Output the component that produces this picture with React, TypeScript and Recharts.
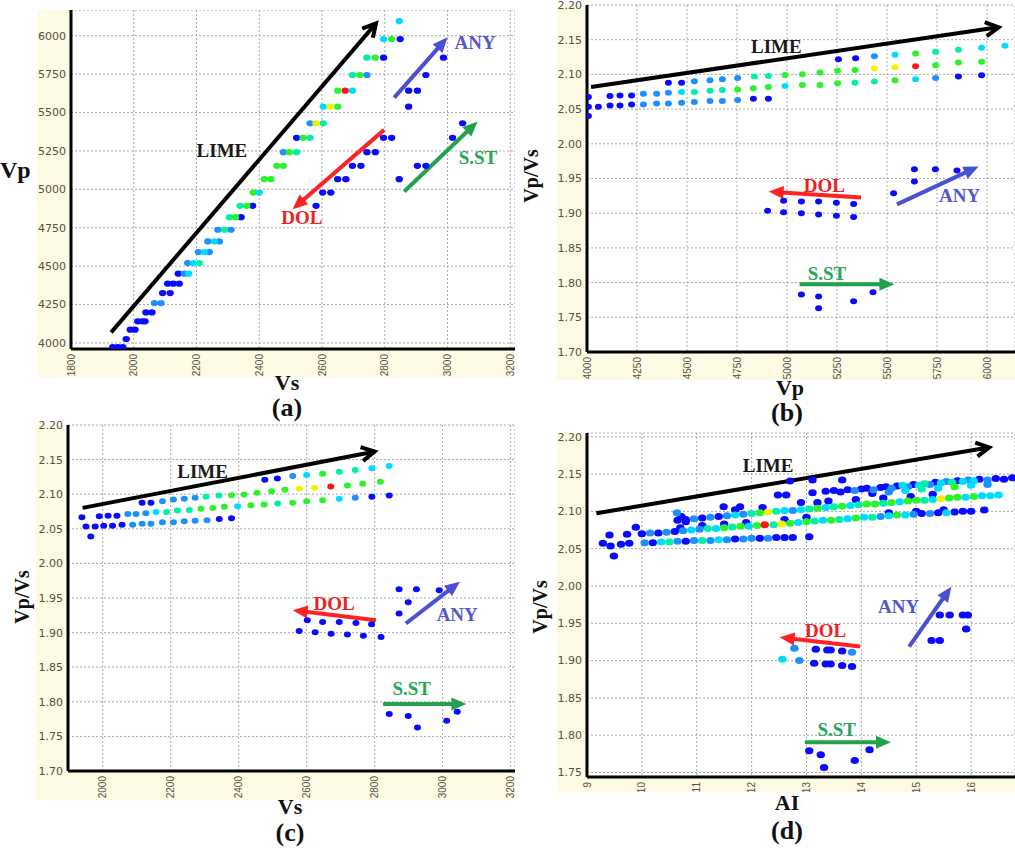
import React from "react";
import {
  ScatterChart,
  Scatter,
  XAxis,
  YAxis,
  CartesianGrid,
  ReferenceLine,
  ReferenceDot,
} from "recharts";

// density classes 0..6 mapped onto a jet-like ramp
const JET = ["#0a0aff", "#1e8fff", "#00dcff", "#00f0a8", "#2cf22c", "#f2f200", "#ff1414"];
const CREAM = "#fdfbe3";
const TICK = "#565048";
const SERIF = '"Liberation Serif", "Times New Roman", serif';
const ARROW_COLOR: Record<string, string> = { LIME: "#000000", DOL: "#ff2222", ANY: "#4b50d2", "S.ST": "#22a24c" };
const TEXT_COLOR: Record<string, string> = { LIME: "#1a1a1a", DOL: "#ee2020", ANY: "#5656cc", "S.ST": "#26a65a" };

// ---------- (a) Vs vs Vp ----------
const aXTicks = [1800, 2000, 2200, 2400, 2600, 2800, 3000, 3200];
const aYTicks = [4000, 4250, 4500, 4750, 5000, 5250, 5500, 5750, 6000];
const aLime = [
  [1933, 3974, 0], [1949, 3974, 0], [1965, 3974, 0],
  [1976, 4026, 0],
  [1989, 4087, 0], [2004, 4087, 0],
  [2013, 4141, 0], [2027, 4141, 0], [2036, 4141, 0],
  [2039, 4199, 0], [2058, 4199, 0],
  [2066, 4260, 1], [2087, 4260, 1],
  [2092, 4325, 0], [2116, 4325, 0],
  [2108, 4386, 0], [2126, 4386, 0], [2145, 4386, 0],
  [2142, 4451, 0], [2161, 4451, 1], [2175, 4451, 2],
  [2172, 4520, 1], [2191, 4520, 2], [2209, 4520, 3],
  [2206, 4592, 1], [2225, 4592, 2], [2241, 4592, 1],
  [2236, 4661, 1], [2257, 4661, 2], [2273, 4661, 1],
  [2268, 4737, 1], [2289, 4737, 3], [2310, 4737, 1],
  [2305, 4819, 3], [2324, 4819, 4], [2342, 4819, 0],
  [2339, 4893, 3], [2360, 4893, 4], [2379, 4893, 0],
  [2381, 4979, 4], [2400, 4979, 2],
  [2416, 5066, 4], [2437, 5066, 4],
  [2456, 5153, 4], [2477, 5153, 4],
  [2477, 5242, 1], [2496, 5242, 4], [2519, 5242, 3],
  [2519, 5335, 0], [2540, 5335, 4], [2562, 5335, 3],
  [2562, 5430, 1], [2581, 5430, 5], [2604, 5430, 3],
  [2604, 5538, 2], [2626, 5538, 5], [2650, 5538, 4],
  [2650, 5642, 4], [2674, 5642, 6], [2697, 5642, 2],
  [2697, 5744, 3], [2721, 5744, 4], [2743, 5744, 1],
  [2743, 5857, 3], [2770, 5857, 4], [2796, 5857, 0],
  [2796, 5978, 2], [2822, 5978, 4], [2849, 5978, 0],
  [2846, 6095, 2],
];
const aDol = [
  [2581, 4893], [2602, 4979], [2628, 4979], [2650, 5066], [2676, 5066], [2697, 5153],
  [2724, 5153], [2743, 5242], [2770, 5242], [2796, 5335], [2822, 5335],
];
const aAny = [[2876, 5538], [2876, 5642], [2904, 5642], [2931, 5744], [2987, 5857]];
const aSst = [[2846, 5066], [2904, 5153], [2931, 5153], [3016, 5335], [3048, 5430]];
const aArrows = [
  ["LIME", 1928, 4069, 2772, 6080],
  ["DOL", 2798, 5387, 2506, 4871],
  ["ANY", 2830, 5597, 3000, 5989],
  ["S.ST", 2862, 4986, 3096, 5441],
];
const aLabels = [["LIME", 2281, 5252], ["DOL", 2536, 4815], ["ANY", 3088, 5959], ["S.ST", 3097, 5205]];

// ---------- (b) Vp vs Vp/Vs ----------
const bXTicks = [4000, 4250, 4500, 4750, 5000, 5250, 5500, 5750, 6000];
const ratioTicks = [1.7, 1.75, 1.8, 1.85, 1.9, 1.95, 2.0, 2.05, 2.1, 2.15, 2.2];
const bLime = [
  [5257, 2.1219, 0], [5343, 2.1233, 0], [5437, 2.1262, 1], [5540, 2.1283, 2], [5643, 2.1301, 4],
  [5743, 2.1326, 3], [5857, 2.1355, 3], [5973, 2.1384, 2], [6090, 2.1413, 2],
  [4407, 2.0881, 0], [4473, 2.0881, 0], [4537, 2.09, 1], [4615, 2.0914, 1], [4677, 2.0929, 1],
  [4753, 2.0949, 1], [4837, 2.0968, 3], [4907, 2.0978, 3], [4990, 2.0993, 4], [5077, 2.1001, 4],
  [5165, 2.1026, 4], [5253, 2.1051, 4], [5340, 2.1065, 4], [5437, 2.1084, 5], [5540, 2.1103, 5],
  [5643, 2.1117, 6], [5743, 2.1132, 4], [5857, 2.1171, 4], [5973, 2.1181, 4],
  [4007, 2.0674, 0], [4115, 2.0688, 0], [4165, 2.0697, 0], [4223, 2.0697, 0], [4282, 2.0722, 1],
  [4348, 2.0722, 1], [4407, 2.0736, 1], [4473, 2.0746, 2], [4537, 2.0746, 3], [4615, 2.0765, 3],
  [4677, 2.0775, 3], [4753, 2.0784, 4], [4832, 2.0799, 4], [4907, 2.0819, 4], [4990, 2.0833, 2],
  [5077, 2.0848, 4], [5165, 2.0848, 4], [5253, 2.0871, 4], [5340, 2.0881, 3], [5437, 2.0896, 3],
  [5540, 2.0914, 4], [5643, 2.0929, 2], [5743, 2.0949, 1], [5857, 2.0968, 0], [5973, 2.0987, 0],
  [4007, 2.0533, 0], [4057, 2.0533, 0], [4115, 2.0552, 0], [4165, 2.0552, 0], [4223, 2.0567, 0],
  [4282, 2.0567, 1], [4348, 2.0581, 1], [4407, 2.0581, 1], [4473, 2.0591, 1], [4537, 2.0601, 1],
  [4615, 2.0616, 1], [4677, 2.0616, 1], [4753, 2.063, 1], [4832, 2.0649, 0], [4907, 2.0649, 0],
  [4007, 2.0399, 0],
];
const bDol = [
  [4983, 1.9181], [5072, 1.9167], [5158, 1.9167], [5247, 1.9152], [5333, 1.9133],
  [4903, 1.9036], [4983, 1.9012], [5072, 1.8998], [5158, 1.8983], [5247, 1.8964], [5333, 1.8944],
];
const bAny = [[5533, 1.9287], [5637, 1.9457], [5637, 1.9635], [5742, 1.9635], [5850, 1.9616]];
const bSst = [[5072, 1.7829], [5158, 1.78], [5158, 1.763], [5333, 1.7732], [5430, 1.7862]];
const bArrows = [
  ["LIME", 4020, 2.0819, 6058, 2.1679],
  ["DOL", 5370, 1.9225, 4908, 1.9312],
  ["ANY", 5550, 1.9128, 5958, 1.9674],
  ["S.ST", 5063, 1.7978, 5537, 1.7978],
];
const bLabels = [["LIME", 4947, 2.1403], ["DOL", 5187, 1.9408], ["ANY", 5863, 1.9263], ["S.ST", 5200, 1.8128]];

// ---------- (c) Vs vs Vp/Vs ----------
const cXTicks = [2000, 2200, 2400, 2600, 2800, 3000, 3200];
const cLime = [
  [2477, 2.1209, 0], [2514, 2.1228, 0], [2559, 2.1262, 1], [2600, 2.1276, 2], [2647, 2.1297, 4],
  [2696, 2.1326, 3], [2743, 2.1349, 3], [2792, 2.1374, 2], [2843, 2.1407, 2],
  [2116, 2.0875, 0], [2142, 2.0875, 0], [2176, 2.0898, 1], [2208, 2.0923, 1], [2240, 2.0933, 1],
  [2272, 2.0948, 1], [2304, 2.0962, 3], [2342, 2.0981, 3], [2379, 2.0985, 4], [2416, 2.0996, 4],
  [2454, 2.102, 4], [2497, 2.1044, 4], [2536, 2.1064, 4], [2579, 2.1083, 5], [2623, 2.1093, 5],
  [2671, 2.1112, 6], [2720, 2.1126, 4], [2765, 2.1151, 4], [2817, 2.118, 4],
  [1939, 2.0666, 0], [1990, 2.068, 0], [2016, 2.069, 0], [2042, 2.069, 0], [2074, 2.0715, 1],
  [2098, 2.0715, 1], [2127, 2.0724, 1], [2157, 2.0744, 2], [2188, 2.0744, 3], [2220, 2.0763, 3],
  [2255, 2.0773, 3], [2289, 2.0788, 4], [2324, 2.0802, 4], [2358, 2.0817, 4], [2397, 2.0826, 2],
  [2436, 2.0841, 4], [2475, 2.0851, 4], [2515, 2.0866, 3], [2559, 2.0875, 4], [2600, 2.0898, 4],
  [2647, 2.0913, 4], [2696, 2.0933, 2], [2743, 2.0948, 1], [2792, 2.0962, 0], [2843, 2.0981, 0],
  [1951, 2.0535, 0], [1978, 2.0535, 0], [2003, 2.0545, 0], [2029, 2.0545, 0], [2057, 2.056, 0],
  [2088, 2.056, 1], [2116, 2.0574, 1], [2142, 2.0574, 1], [2176, 2.0593, 1], [2208, 2.0593, 1],
  [2240, 2.0608, 1], [2272, 2.0618, 1], [2307, 2.0622, 1], [2343, 2.0642, 0], [2379, 2.0651, 0],
  [1965, 2.039, 0],
];
const cDol = [
  [2602, 1.9179], [2647, 1.9154], [2696, 1.9154], [2745, 1.914], [2791, 1.9121],
  [2578, 1.9023], [2625, 1.9004], [2672, 1.8985], [2720, 1.8971], [2767, 1.8956], [2819, 1.8936],
];
const cAny = [[2872, 1.9276], [2899, 1.944], [2872, 1.9625], [2923, 1.9625], [2990, 1.9611]];
const cSst = [[2843, 1.7823], [2899, 1.7794], [2926, 1.7628], [3012, 1.7725], [3043, 1.7856]];
const cArrows = [
  ["LIME", 1941, 2.0802, 2800, 2.1616],
  ["DOL", 2804, 1.9179, 2559, 1.9324],
  ["ANY", 2892, 1.9131, 3051, 1.9735],
  ["S.ST", 2825, 1.7968, 3070, 1.7968],
];
const cLabels = [["LIME", 2294, 2.1334], ["DOL", 2681, 1.9422], ["ANY", 3043, 1.9266], ["S.ST", 2909, 1.8195]];

// ---------- (d) AI vs Vp/Vs ----------
const dXTicks = [9, 10, 11, 12, 13, 14, 15, 16];
const dYTicks = [1.75, 1.8, 1.85, 1.9, 1.95, 2.0, 2.05, 2.1, 2.15, 2.2];
const dBandTop = [
  [13.35, 2.127, 0], [13.5, 2.128, 0], [13.62, 2.126, 0], [13.75, 2.129, 0], [13.88, 2.128, 1],
  [14.0, 2.13, 0], [14.1, 2.131, 0], [14.22, 2.129, 1], [14.35, 2.132, 0], [14.45, 2.133, 0],
  [14.55, 2.131, 1], [14.65, 2.134, 0], [14.75, 2.135, 2], [14.85, 2.133, 1], [14.95, 2.136, 0],
  [15.05, 2.135, 2], [15.15, 2.137, 3], [15.25, 2.136, 1], [15.35, 2.139, 0], [15.45, 2.138, 2],
  [15.55, 2.14, 1], [15.65, 2.139, 3], [15.75, 2.141, 0], [15.85, 2.14, 2], [15.95, 2.142, 1],
  [16.05, 2.141, 2], [16.15, 2.143, 0], [16.3, 2.142, 1], [16.45, 2.144, 0], [16.6, 2.143, 0],
  [16.75, 2.145, 0],
  [14.2, 2.124, 0], [14.5, 2.126, 1], [14.8, 2.128, 2], [15.1, 2.13, 3], [15.4, 2.131, 2],
  [15.7, 2.133, 4], [16.0, 2.135, 2], [16.3, 2.136, 1],
];
const dBandMid = [
  [10.65, 2.088, 0], [10.8, 2.089, 0], [10.95, 2.09, 1], [11.1, 2.091, 0], [11.25, 2.092, 1],
  [11.4, 2.093, 0], [11.55, 2.094, 1], [11.7, 2.095, 2], [11.85, 2.096, 1], [12.0, 2.097, 3],
  [12.15, 2.098, 4], [12.3, 2.099, 5], [12.45, 2.1, 3], [12.6, 2.101, 2], [12.75, 2.101, 1],
  [12.9, 2.102, 2], [13.05, 2.103, 3], [13.2, 2.104, 4], [13.35, 2.105, 2], [13.5, 2.106, 3],
  [13.65, 2.107, 4], [13.8, 2.108, 2], [13.95, 2.109, 3], [14.1, 2.11, 4], [14.25, 2.11, 4],
  [14.4, 2.111, 3], [14.55, 2.112, 4], [14.7, 2.113, 2], [14.85, 2.114, 4], [15.0, 2.115, 4],
  [15.15, 2.115, 3], [15.3, 2.116, 2], [15.45, 2.117, 5], [15.6, 2.118, 4], [15.75, 2.119, 4],
  [15.9, 2.119, 2], [16.05, 2.12, 4], [16.2, 2.121, 2], [16.35, 2.121, 2], [16.5, 2.122, 2],
  [12.9, 2.112, 0], [13.4, 2.114, 0], [13.9, 2.116, 0], [14.4, 2.118, 0], [14.9, 2.12, 0],
  [15.3, 2.123, 0], [12.2, 2.105, 0], [11.7, 2.102, 0],
];
const dBandLow = [
  [10.0, 2.07, 0], [10.15, 2.071, 1], [10.3, 2.071, 0], [10.45, 2.072, 1], [10.6, 2.073, 0],
  [10.75, 2.074, 1], [10.9, 2.075, 2], [11.05, 2.076, 1], [11.2, 2.077, 3], [11.35, 2.077, 2],
  [11.5, 2.078, 4], [11.65, 2.079, 3], [11.8, 2.08, 4], [11.95, 2.08, 2], [12.1, 2.081, 4],
  [12.24, 2.082, 6], [12.4, 2.082, 3], [12.55, 2.083, 5], [12.7, 2.084, 4], [12.85, 2.085, 2],
  [13.0, 2.086, 4], [13.15, 2.087, 3], [13.3, 2.088, 2], [13.45, 2.088, 4], [13.6, 2.089, 3],
  [13.75, 2.09, 2], [13.9, 2.091, 4], [14.05, 2.092, 2], [14.2, 2.092, 3], [14.35, 2.093, 1],
  [14.5, 2.094, 2], [14.65, 2.095, 4], [14.8, 2.095, 2], [14.95, 2.096, 1], [15.1, 2.097, 0],
  [15.25, 2.097, 1], [15.4, 2.098, 0], [15.55, 2.098, 2], [15.7, 2.099, 0], [15.85, 2.1, 0],
  [16.0, 2.1, 0],
  [10.7, 2.078, 0], [11.1, 2.081, 0], [11.5, 2.083, 0], [11.9, 2.085, 0], [12.6, 2.089, 0],
  [13.0, 2.092, 0], [14.5, 2.098, 0], [15.0, 2.1, 0], [15.5, 2.102, 0],
];
const dBandBase = [
  [10.05, 2.058, 1], [10.2, 2.058, 0], [10.35, 2.059, 2], [10.5, 2.059, 3], [10.65, 2.06, 1],
  [10.8, 2.06, 0], [10.95, 2.061, 1], [11.1, 2.061, 3], [11.25, 2.061, 1], [11.4, 2.062, 2],
  [11.55, 2.062, 1], [11.7, 2.063, 0], [11.85, 2.063, 1], [12.0, 2.064, 1], [12.15, 2.064, 0],
  [12.3, 2.064, 1], [12.45, 2.065, 0], [12.6, 2.065, 0], [12.75, 2.065, 0],
];
const dStray = [
  [9.29, 2.0572, 0], [9.41, 2.0683, 0], [9.43, 2.0536, 0], [9.49, 2.0402, 0], [9.62, 2.0559, 0],
  [9.73, 2.0693, 0], [9.77, 2.0572, 0], [9.89, 2.0787, 0],
  [10.64, 2.098, 1], [10.72, 2.093, 0], [10.8, 2.086, 0], [11.49, 2.1062, 0], [11.79, 2.1062, 0],
  [12.48, 2.122, 0], [12.63, 2.122, 0], [12.7, 2.1407, 0], [13.11, 2.142, 0], [13.65, 2.142, 0],
  [13.11, 2.125, 0], [13.2, 2.112, 0], [13.05, 2.066, 0], [16.24, 2.1018, 0],
];
const dDol = [
  [12.78, 1.9166, 1], [13.17, 1.9153, 0], [13.38, 1.9143, 0], [13.44, 1.9143, 0], [13.65, 1.913, 0],
  [13.83, 1.9113, 1], [12.56, 1.9019, 2], [12.87, 1.9, 1], [13.14, 1.8965, 0], [13.35, 1.8956, 0],
  [13.44, 1.8956, 0], [13.65, 1.8933, 0], [13.83, 1.892, 0],
];
const dAny = [
  [15.28, 1.9268], [15.43, 1.9268], [15.43, 1.9612], [15.61, 1.9612], [15.85, 1.9612],
  [15.94, 1.9612], [15.91, 1.9425],
];
const dSst = [[13.05, 1.7791], [13.26, 1.7737], [13.32, 1.7567], [13.88, 1.7661], [14.15, 1.7804]];
const dArrows = [
  ["LIME", 9.17, 2.0974, 16.33, 2.1858],
  ["DOL", 13.98, 1.9188, 12.51, 1.9313],
  ["ANY", 14.87, 1.9188, 15.64, 1.9991],
  ["S.ST", 12.97, 1.7907, 14.54, 1.7907],
];
const dLabels = [["LIME", 12.3, 2.1621], ["DOL", 13.35, 1.9411], ["ANY", 14.68, 1.9733], ["S.ST", 13.55, 1.8085]];

type Row = number[];
const toPts = (rows: Row[]) =>
  rows.map(([x, y, c]) => ({ x, y, c: c ?? 0 })).sort((p, q) => p.c - q.c);

function makeDot(rx: number, ry: number) {
  return (p: any) => {
    if (p.cx == null || p.cy == null) return null;
    return <ellipse cx={p.cx} cy={p.cy} rx={rx} ry={ry} fill={JET[p.payload?.c ?? 0]} />;
  };
}

function RotTick(props: any) {
  const { x, y, payload } = props;
  return (
    <text
      x={x}
      y={y}
      transform={`rotate(-90 ${x} ${y})`}
      textAnchor="end"
      dy="0.35em"
      fontSize={10}
      fill={TICK}
      fontFamily='"Liberation Sans", Arial, sans-serif'
    >
      {payload.value}
    </text>
  );
}

function Arrow({ x1, y1, x2, y2, color, open }: any) {
  if ([x1, y1, x2, y2].some((v) => typeof v !== "number" || isNaN(v))) return null;
  const a = Math.atan2(y2 - y1, x2 - x1);
  const cos = Math.cos(a);
  const sin = Math.sin(a);
  const L = open ? 13 : 15;
  const W = open ? 7 : 6.5;
  const bx = x2 - L * cos;
  const by = y2 - L * sin;
  const p1 = `${bx + W * sin},${by - W * cos}`;
  const p2 = `${bx - W * sin},${by + W * cos}`;
  return (
    <g>
      <line
        x1={x1}
        y1={y1}
        x2={open ? x2 - 2 * cos : bx + 2 * cos}
        y2={open ? y2 - 2 * sin : by + 2 * sin}
        stroke={color}
        strokeWidth={4}
      />
      {open ? (
        <polyline points={`${p1} ${x2},${y2} ${p2}`} fill="none" stroke={color} strokeWidth={4} />
      ) : (
        <polygon points={`${p1} ${x2},${y2} ${p2}`} fill={color} />
      )}
    </g>
  );
}

interface Box {
  left: number;
  top: number;
  width: number;
  height: number;
  yw: number;
  xh: number;
  mt: number;
  rx: number;
  ry: number;
}

interface PanelProps {
  box: Box;
  xDomain: [number, number];
  xTicks: number[];
  yDomain: [number, number];
  yTicks: number[];
  yDigits: number;
  groups: Row[][];
  arrows: (string | number)[][];
  labels: (string | number)[][];
}

function Panel({ box, xDomain, xTicks, yDomain, yTicks, yDigits, groups, arrows, labels }: PanelProps) {
  const dot = makeDot(box.rx, box.ry);
  return (
    <div
      style={{
        position: "absolute",
        left: box.left,
        top: box.top,
        width: box.width,
        height: box.height,
        background: `linear-gradient(to bottom, transparent ${box.mt}px, ${CREAM} ${box.mt}px)`,
      }}
    >
      <ScatterChart
        width={box.width}
        height={box.height}
        margin={{ top: box.mt, right: 0, bottom: 0, left: 0 }}
      >
        <CartesianGrid fill="#ffffff" stroke="#a8a8a8" strokeDasharray="2 2" />
        <XAxis
          type="number"
          dataKey="x"
          scale="linear"
          domain={xDomain}
          ticks={xTicks}
          allowDataOverflow
          interval={0}
          height={box.xh}
          tickLine={false}
          tickSize={3}
          axisLine={{ stroke: "#000", strokeWidth: 3 }}
          tick={(p: any) => <RotTick {...p} />}
        />
        <YAxis
          type="number"
          dataKey="y"
          scale="linear"
          domain={yDomain}
          ticks={yTicks}
          allowDataOverflow
          interval={0}
          width={box.yw}
          tickLine={false}
          tickSize={3}
          axisLine={{ stroke: "#000", strokeWidth: 3 }}
          tickFormatter={(v: number) => v.toFixed(yDigits)}
          tick={{ fill: TICK, fontSize: 11, fontFamily: "DejaVu Sans" }}
        />
        {groups.map((g, i) => (
          <Scatter key={i} data={toPts(g)} shape={dot} isAnimationActive={false} />
        ))}
        {arrows.map(([name, x1, y1, x2, y2]) => (
          <ReferenceLine
            key={`ar-${name}`}
            segment={[
              { x: x1 as number, y: y1 as number },
              { x: x2 as number, y: y2 as number },
            ]}
            ifOverflow="visible"
            shape={(p: any) => <Arrow {...p} color={ARROW_COLOR[name as string]} open={name === "LIME"} />}
          />
        ))}
        {labels.map(([name, x, y]) => (
          <ReferenceDot
            key={`lb-${name}`}
            x={x as number}
            y={y as number}
            r={0}
            ifOverflow="visible"
            shape={(p: any) => (
              <text
                x={p.cx}
                y={p.cy}
                dy="0.35em"
                textAnchor="middle"
                fontFamily={SERIF}
                fontWeight="bold"
                fontSize={19}
                fill={TEXT_COLOR[name as string]}
              >
                {name}
              </text>
            )}
          />
        ))}
      </ScatterChart>
    </div>
  );
}

const titleStyle = (x: number, y: number, size: number, rotate = false): React.CSSProperties => ({
  position: "absolute",
  left: x,
  top: y,
  transform: `translate(-50%, -50%)${rotate ? " rotate(-90deg)" : ""}`,
  fontFamily: SERIF,
  fontWeight: "bold",
  fontSize: size,
  color: "#111",
  whiteSpace: "nowrap",
  lineHeight: 1,
});

export default function App() {
  return (
    <div
      style={{
        position: "absolute",
        left: 0,
        top: 0,
        width: 1015,
        height: 848,
        background: "#fff",
        overflow: "hidden",
      }}
    >
      <Panel
        box={{ left: 37, top: 10, width: 478, height: 367, yw: 34, xh: 28, mt: 0, rx: 3.7, ry: 3.1 }}
        xDomain={[1800, 3215]}
        xTicks={aXTicks}
        yDomain={[3961, 6167]}
        yTicks={aYTicks}
        yDigits={0}
        groups={[aDol, aAny, aSst, aLime]}
        arrows={aArrows}
        labels={aLabels}
      />
      <Panel
        box={{ left: 557, top: 0, width: 458, height: 380, yw: 30, xh: 28, mt: 5, rx: 3.5, ry: 3 }}
        xDomain={[4000, 6140]}
        xTicks={bXTicks}
        yDomain={[1.7, 2.2]}
        yTicks={ratioTicks}
        yDigits={2}
        groups={[bDol, bAny, bSst, bLime]}
        arrows={bArrows}
        labels={bLabels}
      />
      <Panel
        box={{ left: 36, top: 418, width: 479, height: 382, yw: 32, xh: 29, mt: 7, rx: 3.5, ry: 3 }}
        xDomain={[1898, 3213]}
        xTicks={cXTicks}
        yDomain={[1.7, 2.2]}
        yTicks={ratioTicks}
        yDigits={2}
        groups={[cDol, cAny, cSst, cLime]}
        arrows={cArrows}
        labels={cLabels}
      />
      <Panel
        box={{ left: 557, top: 427, width: 458, height: 365, yw: 30, xh: 15, mt: 6, rx: 4.2, ry: 3.5 }}
        xDomain={[9, 16.8]}
        xTicks={dXTicks}
        yDomain={[1.744, 2.205]}
        yTicks={dYTicks}
        yDigits={2}
        groups={[dStray, dBandBase, dBandTop, dBandLow, dBandMid, dDol, dAny, dSst]}
        arrows={dArrows}
        labels={dLabels}
      />

      <div style={{ ...titleStyle(0, 170, 24), transform: "translate(0, -50%)", left: 0 }}>Vp</div>
      <div style={titleStyle(531, 176, 20, true)}>Vp/Vs</div>
      <div style={titleStyle(22, 597, 20, true)}>Vp/Vs</div>
      <div style={titleStyle(540, 607, 20, true)}>Vp/Vs</div>

      <div style={titleStyle(287, 383, 22)}>Vs</div>
      <div style={titleStyle(790, 388, 22)}>Vp</div>
      <div style={titleStyle(290, 807, 22)}>Vs</div>
      <div style={titleStyle(787, 803, 22)}>AI</div>

      <div style={titleStyle(287, 408, 26)}>(a)</div>
      <div style={titleStyle(787, 413, 26)}>(b)</div>
      <div style={titleStyle(290, 833, 26)}>(c)</div>
      <div style={titleStyle(787, 831, 26)}>(d)</div>
    </div>
  );
}
